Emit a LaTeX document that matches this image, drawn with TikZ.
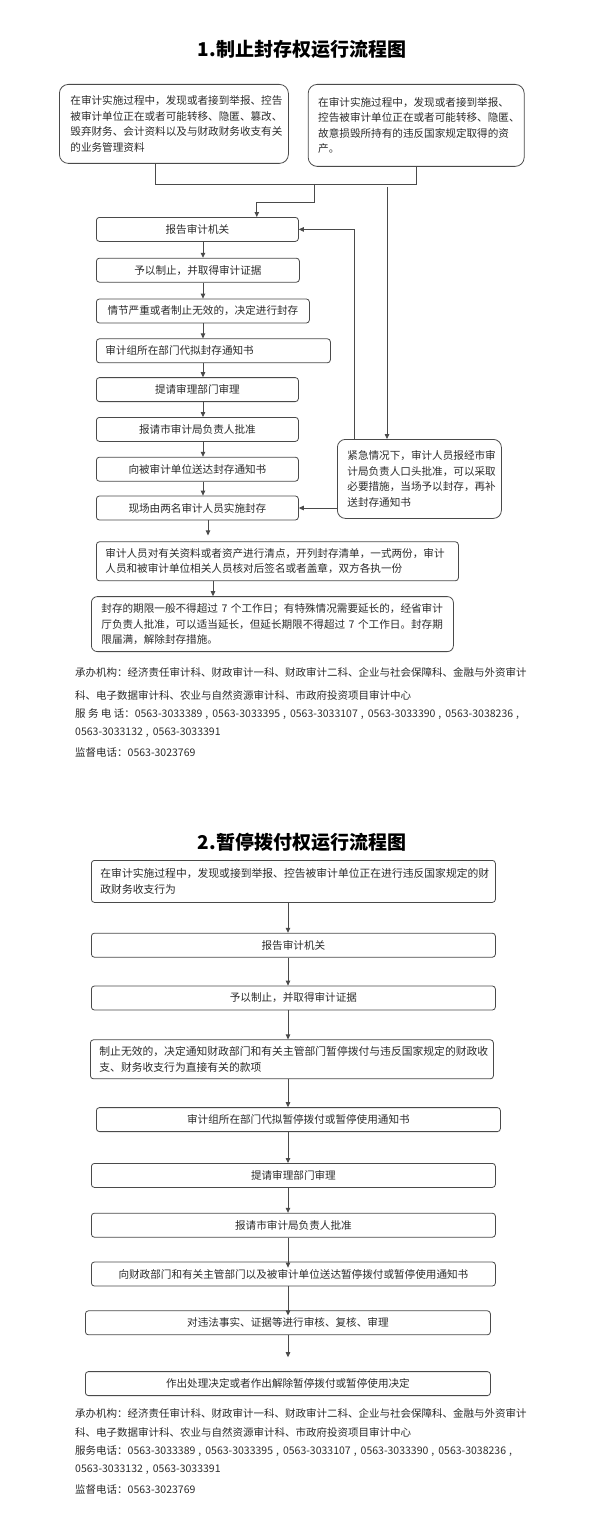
\documentclass[tikz,border=0pt]{standalone}
\usepackage{fontspec}
\setmainfont{Noto Sans CJK SC}
\usetikzlibrary{positioning, arrows.meta}

\definecolor{ink}{HTML}{2B2B2B}
\definecolor{rule}{HTML}{4A4A4A}
\newcommand{\flowfont}{\fontsize{10.6pt}{15.5pt}\selectfont}
\newcommand{\widefont}{\fontsize{10.8pt}{15.5pt}\selectfont}
\newcommand{\footfont}{\fontsize{10.5pt}{15pt}\selectfont}
\newcommand{\telsep}{\hspace{3pt},\hspace{4pt}}

\begin{document}
\begin{tikzpicture}[
  x=1pt, y=-1pt,
  font=\flowfont, text=ink,
  heading/.style={font=\fontsize{19pt}{22pt}\selectfont\bfseries, text=black},
  flow/.style={draw=rule, line width=0.8pt, rounded corners=3pt, minimum height=24pt, inner sep=0pt},
  source/.style={draw=rule, line width=0.8pt, rounded corners=9pt, align=left, inner sep=0pt},
  foot/.style={anchor=west, inner sep=0pt, font=\footfont},
  ln/.style={draw=rule, line width=0.8pt},
  ar/.style={ln, -{Triangle[length=5pt, width=4.5pt]}}
]
\useasboundingbox (0,0) rectangle (600,1533);

% ---------------- Part 1: sealing ----------------
\node[heading] (t1) at (302,49) {1.制止封存权运行流程图};

% two triggering situations
\node[source, text width=207pt, inner xsep=11pt, minimum height=79pt, anchor=north west] (srcA) at (59,84)
  {在审计实施过程中，发现或者接到举报、控告\\被审计单位正在或者可能转移、隐匿、篡改、\\毁弃财务、会计资料以及与财政财务收支有关\\的业务管理资料};
\node[source, text width=196pt, inner xsep=10pt, minimum height=82pt, right=19pt of srcA.north east, anchor=north west] (srcB)
  {在审计实施过程中，发现或者接到举报、\\控告被审计单位正在或者可能转移、隐匿、\\故意损毁所持有的违反国家规定取得的资\\产。};

% main column
\node[flow, minimum width=202pt, anchor=north west] (report) at (96,217) {报告审计机关};
\node[flow, minimum width=203pt, below=16pt of report.south west, anchor=north west] (halt) {予以制止，并取得审计证据};
\node[flow, minimum width=213pt, below=16pt of halt.south west, anchor=north west] (decide) {情节严重或者制止无效的，决定进行封存};
\node[flow, text width=216pt, inner xsep=9pt, align=left, below=15pt of decide.south west, anchor=north west] (draft) {审计组所在部门代拟封存通知书};
\node[flow, minimum width=202pt, below=14pt of draft.south west, anchor=north west] (review) {提请审理部门审理};
\node[flow, minimum width=202pt, below=15pt of review.south west, anchor=north west] (approve) {报请市审计局负责人批准};
\node[flow, minimum width=202pt, below=15pt of approve.south west, anchor=north west] (serve) {向被审计单位送达封存通知书};
\node[flow, minimum width=202pt, below=14pt of serve.south west, anchor=north west] (seal) {现场由两名审计人员实施封存};
\node[flow, text width=344pt, inner xsep=9pt, align=left, minimum height=39pt, below=21pt of seal.south west, anchor=north west] (count)
  {审计人员对有关资料或者资产进行清点，开列封存清单，一式两份，审计\\人员和被审计单位相关人员核对后签名或者盖章，双方各执一份};
\node[flow, rounded corners=6pt, text width=342pt, inner xsep=10pt, align=left, minimum height=55pt, below=15pt of count.south west, anchor=north west, xshift=-5pt] (limit)
  {封存的期限一般不得超过~7~个工作日；有特殊情况需要延长的，经省审计\\厅负责人批准，可以适当延长，但延长期限不得超过~7~个工作日。封存期\\限届满，解除封存措施。};

% emergency branch
\node[source, rounded corners=8pt, text width=144pt, inner xsep=10pt, minimum height=79pt, anchor=north west] (urgent) at (337,439)
  {紧急情况下，审计人员报经市审\\计局负责人口头批准，可以采取\\必要措施，当场予以封存，再补\\送封存通知书};

% connectors
\coordinate (joinL) at (155,184);
\coordinate (drop)  at (314,184);
\coordinate (feed)  at (387,187);
\coordinate (back)  at (354,228);
\coordinate (spine) at (203,0);
\coordinate (spineB) at (208,0);
\coordinate (spineC) at (213,0);
\draw[ln] (srcA.south -| joinL) -- (joinL) -| (srcB.south);
\draw[ar] (drop) -- ++(0,18) -| ([xshift=-42pt]report.north east);
\draw[ar] (feed) -- (feed |- urgent.north);
\draw[ar] (back |- urgent.north) |- (report.east);
\draw[ar] (urgent.west |- seal.east) -- (seal.east);
\foreach \a/\b in {report/halt, halt/decide, decide/draft, draft/review, review/approve, approve/serve, serve/seal}
  \draw[ar] (\a.south -| spine) -- (\b.north -| spine);
\draw[ar, shorten >=6pt] (seal.south -| spineB) -- (count.north -| spineB);
\draw[ar] (count.south -| spineC) -- (limit.north -| spineC);

% notes
\node[foot] (orgA) at (75,672) {承办机构：经济责任审计科、财政审计一科、财政审计二科、企业与社会保障科、金融与外资审计};
\node[foot] (orgB) at (75,695) {科、电子数据审计科、农业与自然资源审计科、市政府投资项目审计中心};
\node[foot] (telA) at (75,714) {服 务 电 话：0563-3033389\telsep 0563-3033395\telsep 0563-3033107\telsep 0563-3033390\telsep 0563-3038236\hspace{3pt},};
\node[foot] (telB) at (75,733) {0563-3033132\telsep 0563-3033391};
\node[foot] (supA) at (75,752) {监督电话：0563-3023769};

% ---------------- Part 2: suspending payment ----------------
\node[heading] (t2) at (302,842) {2.暂停拨付权运行流程图};

\node[flow, font=\widefont, text width=386pt, inner xsep=9pt, align=left, minimum height=42pt, anchor=north west] (pfind) at (91,860)
  {在审计实施过程中，发现或接到举报、控告被审计单位正在进行违反国家规定的财\\政财务收支行为};
\node[flow, minimum width=404pt, below=30pt of pfind.south west, anchor=north west] (preport) {报告审计机关};
\node[flow, minimum width=404pt, below=28pt of preport.south west, anchor=north west] (phalt) {予以制止，并取得审计证据};
\node[flow, font=\widefont, text width=385pt, inner xsep=9pt, align=left, minimum height=39pt, below=29pt of phalt.south west, anchor=north west, xshift=-1pt] (pstop)
  {制止无效的，决定通知财政部门和有关主管部门暂停拨付与违反国家规定的财政收\\支、财务收支行为直接有关的款项};
\node[flow, minimum width=404pt, below=28pt of pstop.south west, anchor=north west, xshift=6pt] (pdraft) {审计组所在部门代拟暂停拨付或暂停使用通知书};
\node[flow, minimum width=404pt, below=31pt of pdraft.south west, anchor=north west, xshift=-5pt] (preview) {提请审理部门审理};
\node[flow, minimum width=404pt, below=25pt of preview.south west, anchor=north west] (papprove) {报请市审计局负责人批准};
\node[flow, minimum width=404pt, below=24pt of papprove.south west, anchor=north west] (pserve) {向财政部门和有关主管部门以及被审计单位送达暂停拨付或暂停使用通知书};
\node[flow, minimum width=405pt, below=24pt of pserve.south west, anchor=north west, xshift=-6pt] (pcheck) {对违法事实、证据等进行审核、复核、审理};
\node[flow, minimum width=405pt, below=36pt of pcheck.south west, anchor=north west] (pend) {作出处理决定或者作出解除暂停拨付或暂停使用决定};

\coordinate (spine2) at (288,0);
\foreach \a/\b in {pfind/preport, preport/phalt, phalt/pstop, pstop/pdraft, pdraft/preview, preview/papprove}
  \draw[ar] (\a.south -| spine2) -- (\b.north -| spine2);
\draw[ar, shorten >=-6pt] (papprove.south -| spine2) -- (pserve.north -| spine2);
\draw[ar, shorten >=-5pt] (pserve.south -| spine2) -- (pcheck.north -| spine2);
\draw[ar, shorten >=14pt] (pcheck.south -| spine2) -- (pend.north -| spine2);

% notes
\node[foot] (orgC) at (75,1413) {承办机构：经济责任审计科、财政审计一科、财政审计二科、企业与社会保障科、金融与外资审计};
\node[foot] (orgD) at (75,1432) {科、电子数据审计科、农业与自然资源审计科、市政府投资项目审计中心};
\node[foot] (telC) at (75,1451) {服务电话：0563-3033389\telsep 0563-3033395\telsep 0563-3033107\telsep 0563-3033390\telsep 0563-3038236\hspace{3pt},};
\node[foot] (telD) at (75,1470) {0563-3033132\telsep 0563-3033391};
\node[foot] (supB) at (75,1489) {监督电话：0563-3023769};
\end{tikzpicture}
\end{document}
